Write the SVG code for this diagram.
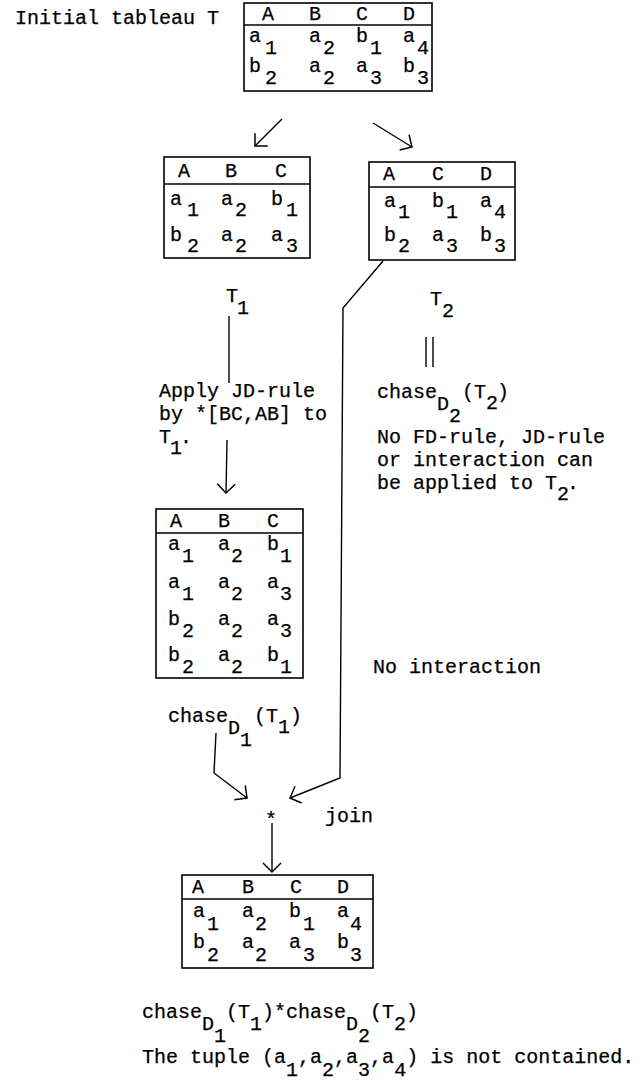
<svg xmlns="http://www.w3.org/2000/svg" width="640" height="1091" viewBox="0 0 640 1091">
<style>
.t{font-family:"Liberation Mono","Courier New",monospace;font-size:20px;fill:#000;stroke:#000;stroke-width:0.25;}
.box{fill:none;stroke:#000;stroke-width:1.6;}
.rule{stroke:#000;stroke-width:1.6;}
.c{fill:none;stroke:#000;stroke-width:1.4;}
</style>
<defs>
<marker id="ah" markerUnits="userSpaceOnUse" viewBox="-14 -14 28 28" markerWidth="28" markerHeight="28" refX="0" refY="0" orient="auto">
<path d="M-9,-9 L0,0 L-9,9" fill="none" stroke="#000" stroke-width="1.5"/>
</marker>
</defs>
<rect width="640" height="1091" fill="#fff"/>

<g id="label-initial">
<text class="t" x="15" y="24">Initial tableau T</text>
</g>

<g id="node-T">
<rect class="box" x="244" y="3" width="188" height="88"/>
<line class="rule" x1="244" y1="25" x2="432" y2="25"/>
<text class="t" y="20"><tspan x="262">A</tspan><tspan x="309">B</tspan><tspan x="356">C</tspan><tspan x="403">D</tspan></text>
<text class="t" y="42"><tspan x="249">a</tspan><tspan x="309">a</tspan><tspan x="356">b</tspan><tspan x="403">a</tspan></text>
<text class="t" y="54"><tspan x="265">1</tspan><tspan x="323">2</tspan><tspan x="370">1</tspan><tspan x="417">4</tspan></text>
<text class="t" y="72"><tspan x="249">b</tspan><tspan x="309">a</tspan><tspan x="356">a</tspan><tspan x="403">b</tspan></text>
<text class="t" y="84"><tspan x="265">2</tspan><tspan x="323">2</tspan><tspan x="370">3</tspan><tspan x="417">3</tspan></text>
</g>

<g id="node-T1table">
<rect class="box" x="164" y="157" width="146" height="101"/>
<line class="rule" x1="164" y1="184" x2="310" y2="184"/>
<text class="t" y="177"><tspan x="178">A</tspan><tspan x="225">B</tspan><tspan x="275">C</tspan></text>
<text class="t" y="205"><tspan x="170">a</tspan><tspan x="221">a</tspan><tspan x="271">b</tspan></text>
<text class="t" y="216"><tspan x="187">1</tspan><tspan x="235">2</tspan><tspan x="286">1</tspan></text>
<text class="t" y="241"><tspan x="170">b</tspan><tspan x="221">a</tspan><tspan x="271">a</tspan></text>
<text class="t" y="252"><tspan x="187">2</tspan><tspan x="235">2</tspan><tspan x="286">3</tspan></text>
</g>

<g id="node-T2table">
<rect class="box" x="369" y="162" width="146" height="98"/>
<line class="rule" x1="369" y1="187" x2="515" y2="187"/>
<text class="t" y="180"><tspan x="383">A</tspan><tspan x="432">C</tspan><tspan x="480">D</tspan></text>
<text class="t" y="207"><tspan x="384">a</tspan><tspan x="432">b</tspan><tspan x="480">a</tspan></text>
<text class="t" y="218"><tspan x="398">1</tspan><tspan x="446">1</tspan><tspan x="494">4</tspan></text>
<text class="t" y="241"><tspan x="384">b</tspan><tspan x="432">a</tspan><tspan x="480">b</tspan></text>
<text class="t" y="252"><tspan x="398">2</tspan><tspan x="446">3</tspan><tspan x="494">3</tspan></text>
</g>

<g id="label-T1">
<text class="t" x="226" y="302">T</text>
<text class="t" x="237" y="314">1</text>
</g>

<g id="label-T2">
<text class="t" x="430" y="305">T</text>
<text class="t" x="442" y="317">2</text>
</g>

<g id="label-apply">
<text class="t" x="159" y="397">Apply JD-rule</text>
<text class="t" x="159" y="420">by *[BC,AB] to</text>
<text class="t" x="159" y="443">T</text>
<text class="t" x="170" y="454">1</text>
<text class="t" x="180" y="443">.</text>
</g>

<g id="label-chaseD2">
<text class="t" x="377" y="398">chase</text>
<text class="t" x="437" y="410">D</text>
<text class="t" x="449" y="422">2</text>
<text class="t" x="462" y="398">(T</text>
<text class="t" x="486" y="409">2</text>
<text class="t" x="497" y="398">)</text>
</g>

<g id="label-nofd">
<text class="t" x="377" y="443">No FD-rule, JD-rule</text>
<text class="t" x="377" y="466">or interaction can</text>
<text class="t" x="377" y="489">be applied to T</text>
<text class="t" x="557" y="500">2</text>
<text class="t" x="567" y="489">.</text>
</g>

<g id="node-T1chase">
<rect class="box" x="156" y="509" width="147" height="169"/>
<line class="rule" x1="156" y1="533" x2="303" y2="533"/>
<text class="t" y="527"><tspan x="170">A</tspan><tspan x="218">B</tspan><tspan x="267">C</tspan></text>
<text class="t" y="550"><tspan x="168">a</tspan><tspan x="218">a</tspan><tspan x="267">b</tspan></text>
<text class="t" y="562"><tspan x="182">1</tspan><tspan x="231">2</tspan><tspan x="280">1</tspan></text>
<text class="t" y="588"><tspan x="168">a</tspan><tspan x="218">a</tspan><tspan x="267">a</tspan></text>
<text class="t" y="600"><tspan x="182">1</tspan><tspan x="231">2</tspan><tspan x="280">3</tspan></text>
<text class="t" y="625"><tspan x="168">b</tspan><tspan x="218">a</tspan><tspan x="267">a</tspan></text>
<text class="t" y="637"><tspan x="182">2</tspan><tspan x="231">2</tspan><tspan x="280">3</tspan></text>
<text class="t" y="661"><tspan x="168">b</tspan><tspan x="218">a</tspan><tspan x="267">b</tspan></text>
<text class="t" y="673"><tspan x="182">2</tspan><tspan x="231">2</tspan><tspan x="280">1</tspan></text>
</g>

<g id="label-nointeraction">
<text class="t" x="373" y="673">No interaction</text>
</g>

<g id="label-chaseD1">
<text class="t" x="168" y="722">chase</text>
<text class="t" x="228" y="734">D</text>
<text class="t" x="240" y="746">1</text>
<text class="t" x="254" y="722">(T</text>
<text class="t" x="278" y="733">1</text>
<text class="t" x="290" y="722">)</text>
</g>

<g id="label-join">
<text class="t" x="265" y="826">*</text>
<text class="t" x="325" y="822">join</text>
</g>

<g id="node-result">
<rect class="box" x="182" y="875" width="191" height="93"/>
<line class="rule" x1="182" y1="899" x2="373" y2="899"/>
<text class="t" y="893"><tspan x="192">A</tspan><tspan x="242">B</tspan><tspan x="290">C</tspan><tspan x="337">D</tspan></text>
<text class="t" y="917"><tspan x="193">a</tspan><tspan x="242">a</tspan><tspan x="289">b</tspan><tspan x="337">a</tspan></text>
<text class="t" y="930"><tspan x="207">1</tspan><tspan x="255">2</tspan><tspan x="303">1</tspan><tspan x="350">4</tspan></text>
<text class="t" y="948"><tspan x="193">b</tspan><tspan x="242">a</tspan><tspan x="289">a</tspan><tspan x="337">b</tspan></text>
<text class="t" y="961"><tspan x="207">2</tspan><tspan x="255">2</tspan><tspan x="303">3</tspan><tspan x="350">3</tspan></text>
</g>

<g id="label-result">
<text class="t" x="142" y="1018">chase</text>
<text class="t" x="202" y="1030">D</text>
<text class="t" x="214" y="1042">1</text>
<text class="t" x="226" y="1018">(T</text>
<text class="t" x="250" y="1030">1</text>
<text class="t" x="262" y="1018">)*chase</text>
<text class="t" x="346" y="1030">D</text>
<text class="t" x="358" y="1042">2</text>
<text class="t" x="370" y="1018">(T</text>
<text class="t" x="394" y="1030">2</text>
<text class="t" x="406" y="1018">)</text>
<text class="t" x="142" y="1063">The tuple (a<tspan dy="13">1</tspan><tspan dy="-13">,a</tspan><tspan dy="13">2</tspan><tspan dy="-13">,a</tspan><tspan dy="13">3</tspan><tspan dy="-13">,a</tspan><tspan dy="13">4</tspan><tspan dy="-13">) is not contained.</tspan></text>
</g>

<g id="connectors">
<line class="c" x1="282" y1="119" x2="255" y2="146" marker-end="url(#ah)"/>
<line class="c" x1="373" y1="123" x2="412" y2="147" marker-end="url(#ah)"/>
<line class="c" x1="229" y1="316" x2="229" y2="383"/>
<line class="c" x1="227" y1="440" x2="226" y2="493" marker-end="url(#ah)"/>
<polyline class="c" points="383,261 343,308 340,778 290,798" marker-end="url(#ah)"/>
<polyline class="c" points="216,733 214,773 247,798" marker-end="url(#ah)"/>
<line class="c" x1="272" y1="823" x2="272" y2="872" marker-end="url(#ah)"/>
<line class="c" x1="426" y1="337" x2="426" y2="367"/>
<line class="c" x1="433" y1="337" x2="433" y2="367"/>
</g>
</svg>
